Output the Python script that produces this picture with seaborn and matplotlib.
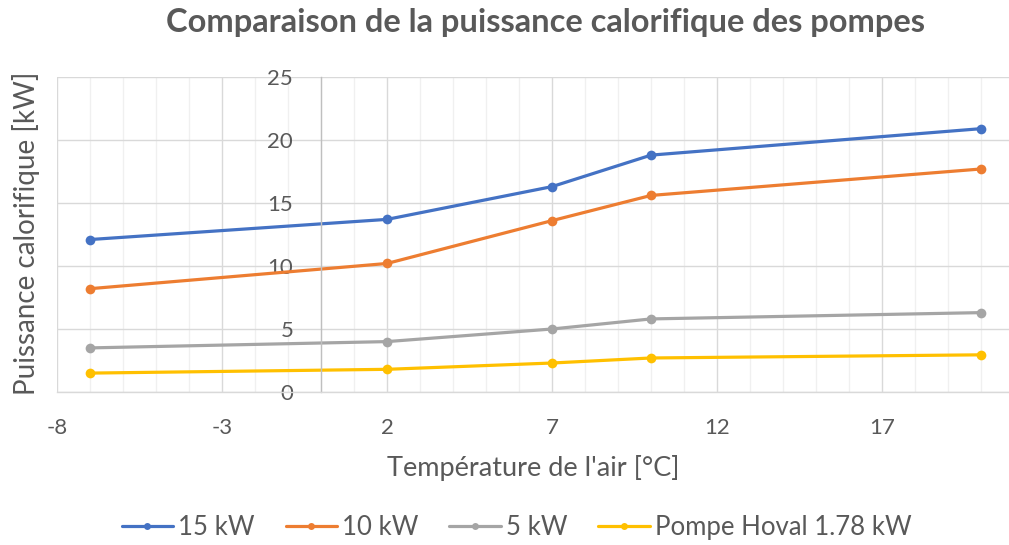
import numpy as np
import pandas as pd
import matplotlib
matplotlib.use("Agg")
import matplotlib.pyplot as plt
from matplotlib.lines import Line2D
from matplotlib.ticker import MultipleLocator
import seaborn as sns

temps = [-7, 2, 7, 10, 20]
p15 = [12.1, 13.7, 16.3, 18.8, 20.9]
p10 = [8.2, 10.2, 13.6, 15.6, 17.7]
p5 = [3.5, 4.0, 5.0, 5.8, 6.3]
hoval = [1.5, 1.8, 2.3, 2.7, 2.95]
series_names = ["15 kW", "10 kW", "5 kW", "Pompe Hoval 1.78 kW"]
colors = ["#4472C4", "#ED7D31", "#A5A5A5", "#FFC000"]

title = "Comparaison de la puissance calorifique des pompes"
xlabel = "Température de l'air [°C]"
ylabel = "Puissance calorifique [kW]"

rows = []
for name, vals in zip(series_names, [p15, p10, p5, hoval]):
    for t, v in zip(temps, vals):
        rows.append({"T": t, "P": v, "serie": name})
df = pd.DataFrame(rows)

sns.set_style("white")
plt.rcParams["font.family"] = ["Lato", "DejaVu Sans"]
plt.rcParams["axes.unicode_minus"] = False
txt = "#595959"

fig = plt.figure(figsize=(10.09, 5.45), dpi=100)
ax = fig.add_axes([57 / 1009, 1 - 392 / 545, 1 - 57 / 1009, (392 - 77) / 545])

sns.lineplot(data=df, x="T", y="P", hue="serie", hue_order=series_names,
             palette=colors, marker="o", markersize=7, markeredgewidth=0,
             linewidth=2.3, ax=ax, legend=False, sort=False)

ax.set_xlim(-8, -8 + (1009 - 57) / 33.0)
ax.set_ylim(0, 25)
ax.set_xticks([-8, -3, 2, 7, 12, 17])
ax.xaxis.set_minor_locator(MultipleLocator(1))
ax.set_yticks([0, 5, 10, 15, 20, 25])

ax.grid(True, which="major", color="#d9d9d9", linewidth=1.0)
ax.grid(True, which="minor", axis="x", color="#f0f0f0", linewidth=1.0)
ax.set_axisbelow(True)

for s in ["top", "right"]:
    ax.spines[s].set_visible(False)
ax.spines["left"].set_position(("data", 0))
ax.spines["left"].set_color("#bfbfbf")
ax.spines["left"].set_linewidth(1.0)
ax.spines["bottom"].set_color("#d9d9d9")
ax.spines["bottom"].set_linewidth(1.0)

ax.tick_params(axis="both", which="both", length=0, labelcolor=txt, labelsize=16)
ax.tick_params(axis="x", pad=19)
ax.tick_params(axis="y", pad=20)

ax.set_xlabel(xlabel, fontsize=19.5, color=txt, labelpad=12)
ax.set_ylabel(ylabel, fontsize=20, color=txt)
ax.yaxis.set_label_coords(-0.018, 0.505)

fig.suptitle(title, fontsize=23.5, fontweight="bold", color=txt, x=0.541, y=0.985)

handles = [Line2D([0], [0], color=c, lw=2.3, marker="o", markersize=5, markeredgewidth=0)
           for c in colors]
fig.legend(handles, series_names, loc="center", bbox_to_anchor=(0.512, 0.032), ncol=4,
           frameon=False, fontsize=18.5, labelcolor=txt, handlelength=2.0,
           handletextpad=0.2, columnspacing=1.2)

fig.savefig("out.png", dpi=100)
